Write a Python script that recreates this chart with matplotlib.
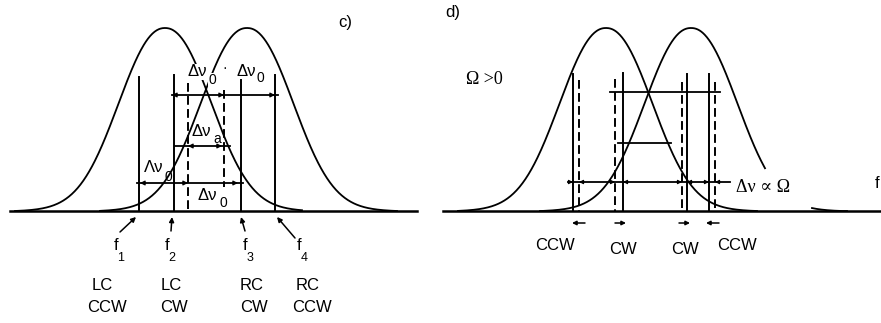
import numpy as np
import matplotlib.pyplot as plt

# canvas in pixel units (y grows downwards)
W, H = 881, 323
BASE = 211          # frequency axis line
PEAK = 183          # height of the gain curves

# ---- panel c) ----
c_centers = [165, 247]
c_width = 62
c_ranges = [(15, 302), (100, 397)]
c_solid_x = [139, 174, 241, 275]
c_solid_top = [77, 75, 80, 75]
c_dash_x = [188, 224]
c_dash_top = [83, 90]
c_dash_bot = [211, 187]
c_hlines = [(95, 172, 278), (146, 175, 230), (183, 137, 243)]   # (y, x0, x1)
c_heads = [(172, 95, -1), (224, 95, 1), (275, 95, 1),
           (188, 146, -1), (222, 146, 1),
           (140, 183, -1), (188, 183, 1), (238, 183, 1)]
c_freq_names = ['1', '2', '3', '4']
c_freq_x = [116, 167, 245, 299]
c_feet_tail = [(120, 232), (171, 231), (245, 231), (295, 238)]
c_feet_head = [(136, 217), (172, 217), (241, 217), (277, 217)]
c_mode = ['LC', 'LC', 'RC', 'RC']
c_dir = ['CCW', 'CW', 'CW', 'CCW']
c_mode_x = [102, 171, 252, 308]
c_dir_x = [107, 174, 254, 312]

# ---- panel d) ----
d_centers = [606, 691]
d_width = 62
d_ranges = [[(458, 757)], [(540, 765), (812, 847)]]
d_solid_x = [573, 623, 687, 709]
d_solid_top = [74, 73, 74, 74]
d_dash_x = [579, 615, 682, 715]
d_dash_top = [80, 79, 82, 82]
d_hlines = [(92, 610, 720), (143, 618, 671), (182, 568, 730)]
d_heads = [(573, 182, 1), (579, 182, -1), (615, 182, 1), (623, 182, -1),
           (682, 182, 1), (687, 182, -1), (709, 182, 1), (715, 182, -1)]
d_shift = [(585, 572), (615, 626), (679, 690), (719, 706)]   # (tail, head) below axis
d_dir = ['CCW', 'CW', 'CW', 'CCW']
d_dir_x = [555, 623, 685, 737]
d_dir_y = [246, 250, 250, 246]


def profile(x, x0, a, p=2.2, eta=0.08):
    u = np.abs(x - x0) / a
    return (1 - eta) * np.exp(-u ** p) + eta / (1 + u ** 2)


def curve(ax, x0, a, lo, hi, edge=150):
    x = np.linspace(lo, hi, 400)
    pe = profile(x0 + edge, x0, a)
    y = BASE - PEAK * (profile(x, x0, a) - pe) / (1 - pe)
    ax.plot(x, np.minimum(y, BASE), color='k', lw=1.3, zorder=2)


def head(ax, x, y, d, size=7):
    ax.annotate('', xy=(x, y), xytext=(x - d * 5, y),
                arrowprops=dict(arrowstyle='-|>', color='k', lw=0.8,
                                mutation_scale=size, shrinkA=0, shrinkB=0))


fig = plt.figure(figsize=(W / 100, H / 100), dpi=100)
ax = fig.add_axes([0, 0, 1, 1])
ax.set_xlim(0, W)
ax.set_ylim(H, 0)
ax.axis('off')

sans = ['Liberation Sans', 'DejaVu Sans']
serif = ['Liberation Serif', 'DejaVu Serif']
blank = dict(fc='white', ec='none', pad=0.3)

# ================= c) =================
ax.plot([10, 417], [BASE, BASE], color='k', lw=1.8)
for x0, (lo, hi) in zip(c_centers, c_ranges):
    curve(ax, x0, c_width, lo, hi)
for x, top in zip(c_solid_x, c_solid_top):
    ax.plot([x, x], [top, BASE], color='k', lw=1.4)
for x, top, bot in zip(c_dash_x, c_dash_top, c_dash_bot):
    ax.plot([x, x], [top, bot], color='k', lw=1.4, linestyle=(0, (4.5, 2.2)))
for y, x0, x1 in c_hlines:
    ax.plot([x0, x1], [y, y], color='k', lw=1.3)
for x, y, d in c_heads:
    head(ax, x, y, d)

# delta-nu labels
for x, y, sx, sy, m, s, bg in [(197, 72, 212, 80, 'Δν', '0', True),
                               (246, 71, 260, 78, 'Δν', '0', False),
                               (201, 131, 217, 139, 'Δν', 'a', False),
                               (154, 167, 168, 177, 'Λν', '0', False),
                               (207, 195, 223, 203, 'Δν', '0', False)]:
    kw = dict(bbox=blank) if bg else {}
    ax.text(x, y, m, ha='center', va='center', fontsize=12, family=sans, zorder=4, **kw)
    ax.text(sx, sy, s, ha='center', va='center', fontsize=10, family=sans, zorder=4, **kw)
ax.text(225, 68, '·', ha='center', va='center', fontsize=10, family=sans)
ax.text(345, 22, 'c)', ha='center', va='center', fontsize=12, family=sans)

for (tx, ty), (hx, hy) in zip(c_feet_tail, c_feet_head):
    ax.annotate('', xy=(hx, hy), xytext=(tx, ty),
                arrowprops=dict(arrowstyle='-|>', color='k', lw=1.1,
                                mutation_scale=7, shrinkA=0, shrinkB=0))
for x, n in zip(c_freq_x, c_freq_names):
    ax.text(x, 246, 'f', ha='center', va='center', fontsize=12, family=sans)
    ax.text(x + 5, 258, n, ha='center', va='center', fontsize=9, family=sans)
for x, m in zip(c_mode_x, c_mode):
    ax.text(x, 286, m, ha='center', va='center', fontsize=12, family=sans)
for x, d in zip(c_dir_x, c_dir):
    ax.text(x, 308, d, ha='center', va='center', fontsize=12, family=sans)

# ================= d) =================
ax.plot([443, 881], [BASE, BASE], color='k', lw=1.8)
for x0, pieces in zip(d_centers, d_ranges):
    for lo, hi in pieces:
        curve(ax, x0, d_width, lo, hi)
for x, top in zip(d_solid_x, d_solid_top):
    ax.plot([x, x], [top, BASE], color='k', lw=1.4)
for x, top in zip(d_dash_x, d_dash_top):
    ax.plot([x, x], [top, BASE], color='k', lw=1.4, linestyle=(0, (4.5, 2.2)))
for y, x0, x1 in d_hlines:
    ax.plot([x0, x1], [y, y], color='k', lw=1.3)
for x, y, d in d_heads:
    head(ax, x, y, d, size=6)
for tx, hx in d_shift:
    ax.annotate('', xy=(hx, 223), xytext=(tx, 223),
                arrowprops=dict(arrowstyle='-|>', color='k', lw=1.1,
                                mutation_scale=6, shrinkA=0, shrinkB=0))
for x, y, d in zip(d_dir_x, d_dir_y, d_dir):
    ax.text(x, y, d, ha='center', va='center', fontsize=12, family=sans)

ax.text(445, 13, 'd)', ha='left', va='center', fontsize=12, family=sans)
ax.text(466, 79, 'Ω >0', ha='left', va='center', fontsize=13, family=serif)
ax.text(736, 188, 'Δν ∝ Ω', ha='left', va='center', fontsize=13, family=serif)
ax.text(877, 183, 'f', ha='center', va='center', fontsize=12, family=sans)

fig.savefig('out.png', dpi=100)
